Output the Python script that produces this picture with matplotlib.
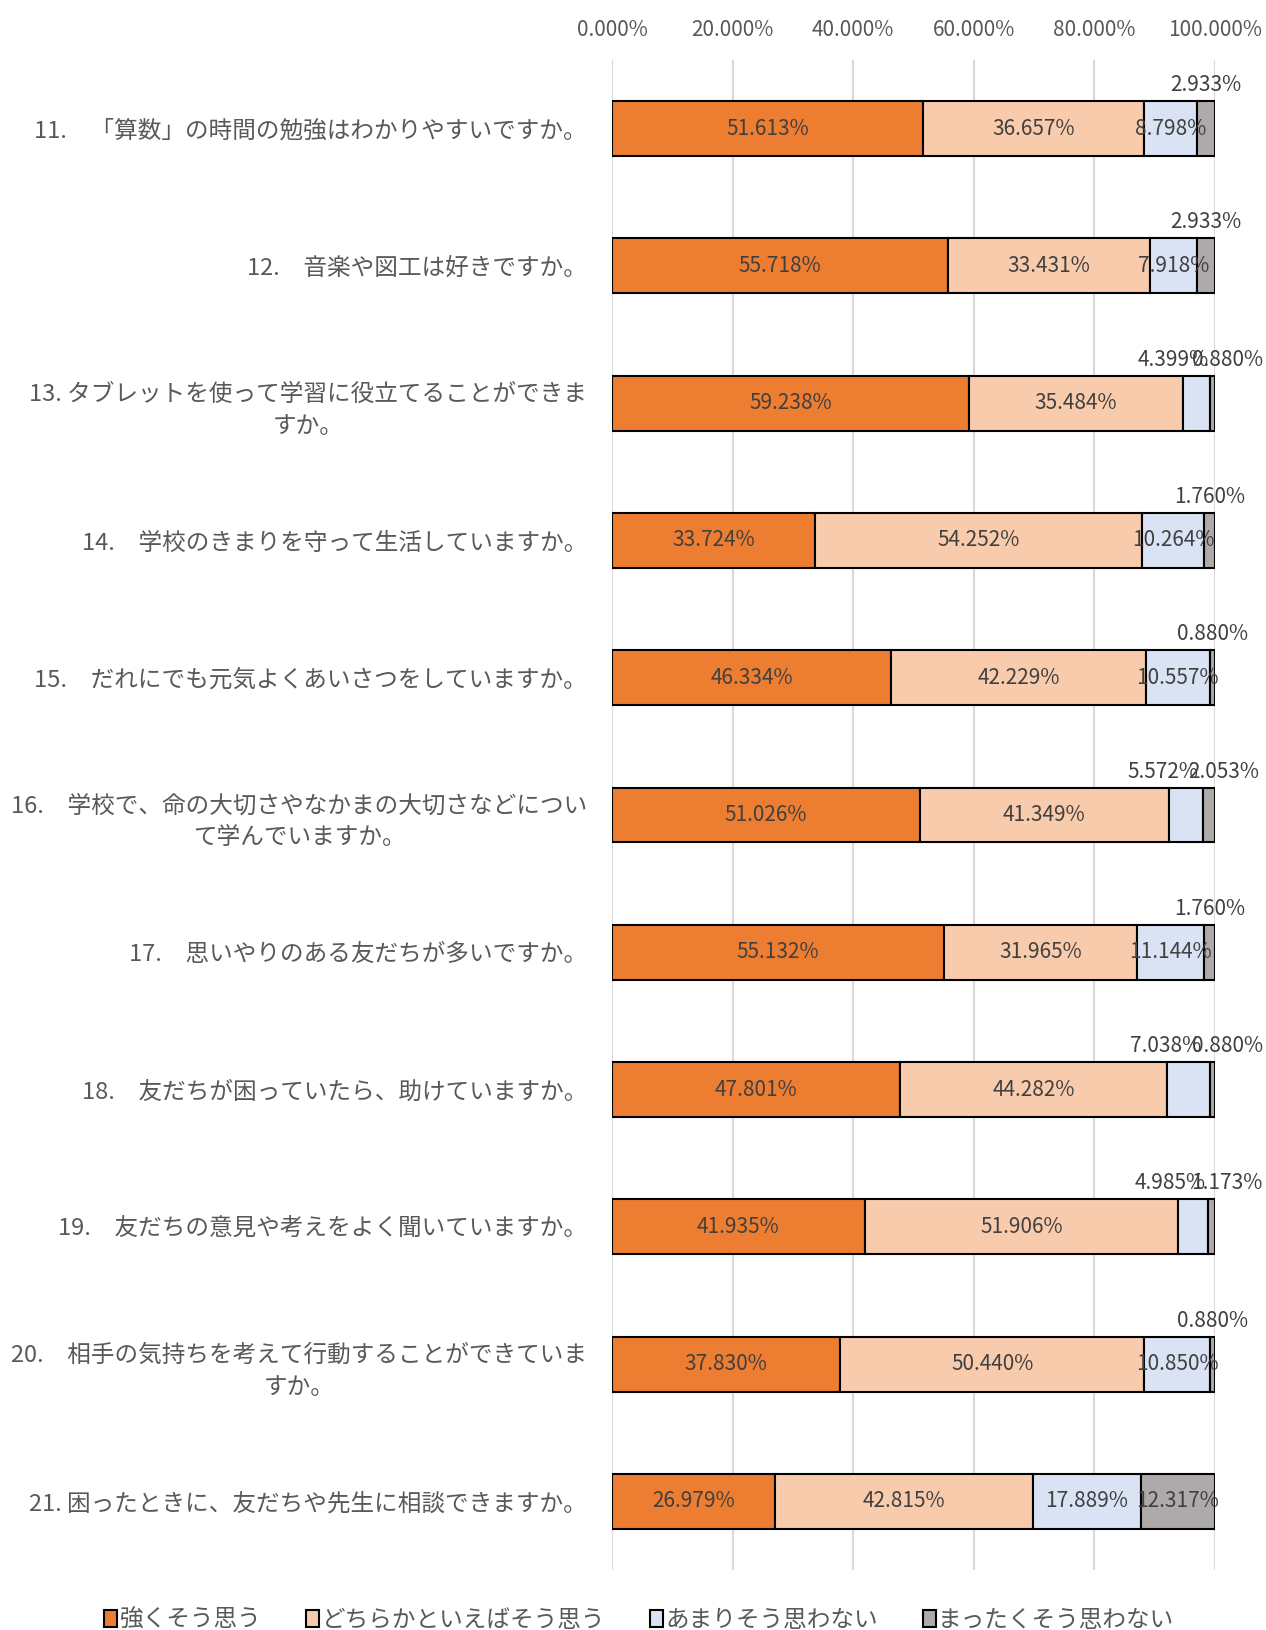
import matplotlib
matplotlib.use("Agg")
import matplotlib.pyplot as plt
import numpy as np

plt.rcParams["font.family"] = ["Noto Sans CJK JP", "DejaVu Sans"]

questions = [
    "11.　「算数」の時間の勉強はわかりやすいですか。",
    "12.　音楽や図工は好きですか。",
    "13. タブレットを使って学習に役立てることができま\nすか。",
    "14.　学校のきまりを守って生活していますか。",
    "15.　だれにでも元気よくあいさつをしていますか。",
    "16.　学校で、命の大切さやなかまの大切さなどについ\nて学んでいますか。",
    "17.　思いやりのある友だちが多いですか。",
    "18.　友だちが困っていたら、助けていますか。",
    "19.　友だちの意見や考えをよく聞いていますか。",
    "20.　相手の気持ちを考えて行動することができていま\nすか。",
    "21. 困ったときに、友だちや先生に相談できますか。",
]

series_names = ["強くそう思う", "どちらかといえばそう思う", "あまりそう思わない", "まったくそう思わない"]

strongly_agree = [51.613, 55.718, 59.238, 33.724, 46.334, 51.026, 55.132, 47.801, 41.935, 37.830, 26.979]
somewhat_agree = [36.657, 33.431, 35.484, 54.252, 42.229, 41.349, 31.965, 44.282, 51.906, 50.440, 42.815]
not_really = [8.798, 7.918, 4.399, 10.264, 10.557, 5.572, 11.144, 7.038, 4.985, 10.850, 17.889]
not_at_all = [2.933, 2.933, 0.880, 1.760, 0.880, 2.053, 1.760, 0.880, 1.173, 0.880, 12.317]

colors = ["#ED7D31", "#F8CBAD", "#DAE3F3", "#AEAAAA"]
xticks = [0, 20, 40, 60, 80, 100]

fig = plt.figure(figsize=(12.66, 16.30), dpi=100)
ax = fig.add_axes([0.4834, 0.0368, 0.4763, 0.9264])

y = np.arange(len(questions))
values = [strongly_agree, somewhat_agree, not_really, not_at_all]
left = np.zeros(len(questions))
bars = []
for vals, name, col in zip(values, series_names, colors):
    b = ax.barh(y, vals, left=left, height=0.4, color=col, edgecolor="black",
                linewidth=1.5, label=name, zorder=3)
    bars.append((b, vals, left.copy()))
    left = left + np.array(vals)

# labels: small segments go above the bar, the rest sit in the middle
for s, (b, vals, lft) in enumerate(bars):
    for i, v in enumerate(vals):
        cx = lft[i] + v / 2
        txt = f"{v:.3f}%"
        if s >= 2 and v < 7.5:
            pair = not_really[i] < 7.5 and not_at_all[i] < 7.5
            dx = 0
            if pair:
                dx = -23 if s == 2 else 15
            ax.annotate(txt, (cx, y[i] - 0.2), xytext=(dx, 5),
                        textcoords="offset pixels", ha="center", va="bottom",
                        fontsize=15, color="#404040", zorder=5)
        else:
            ax.text(cx, y[i], txt, ha="center", va="center", fontsize=15,
                    color="#404040", zorder=5)

ax.set_xlim(0, 100)
ax.set_ylim(len(questions) - 0.5, -0.5)
ax.set_xticks(xticks)
ax.set_xticklabels([f"{t:.3f}%" for t in xticks])
ax.xaxis.tick_top()
ax.tick_params(axis="x", length=0, pad=14, labelsize=15, labelcolor="#595959")
ax.set_yticks(y)
ax.set_yticklabels(questions, fontsize=17, color="#595959",
                   multialignment="center", linespacing=1.5)
ax.tick_params(axis="y", length=0, pad=18)
ax.grid(axis="x", color="#D9D9D9", linewidth=1.5, zorder=0)
for sp in ax.spines.values():
    sp.set_visible(False)

fig.legend(loc="center", bbox_to_anchor=(0.505, 0.006), ncol=4, frameon=False,
           fontsize=17, handlelength=0.55, handleheight=0.75, handletextpad=0.1,
           columnspacing=1.9, labelcolor="#595959")

fig.savefig("out.png", dpi=100)
